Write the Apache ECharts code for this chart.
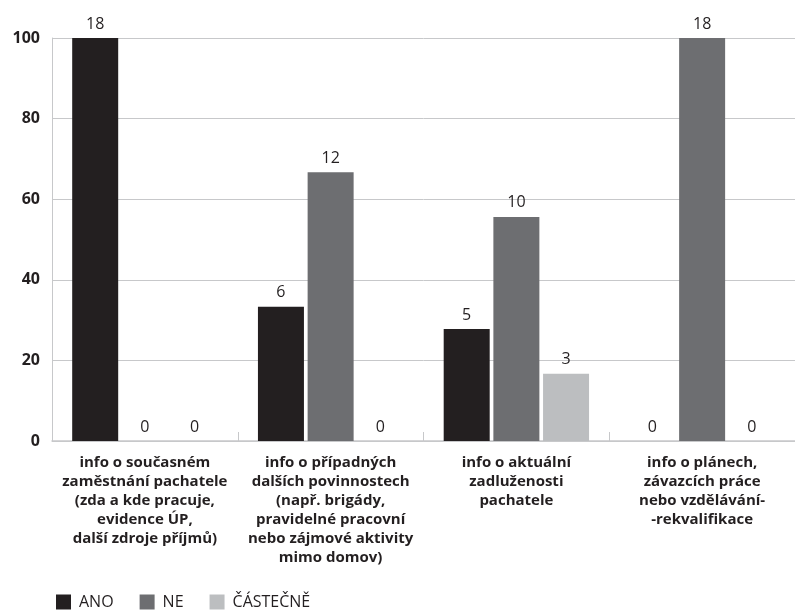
<!DOCTYPE html>
<html>
<head>
<meta charset="utf-8">
<script src="https://cdn.jsdelivr.net/npm/echarts@6/dist/echarts.min.js"></script>
<style>
  html, body { margin: 0; padding: 0; background: #fff; }
  #chart { width: 795px; height: 612px; }
</style>
</head>
<body>
<div id="chart"></div>
<script>
var categories = [
  'info o současném\nzaměstnání pachatele\n(zda a kde pracuje,\nevidence ÚP,\ndalší zdroje příjmů)',
  'info o případných\ndalších povinnostech\n(např. brigády,\npravidelné pracovní\nnebo zájmové aktivity\nmimo domov)',
  'info o aktuální\nzadluženosti\npachatele',
  'info o plánech,\nzávazcích práce\nnebo vzdělávání-\n-rekvalifikace'
];
var seriesNames = ['ANO', 'NE', 'ČÁSTEČNĚ'];
// percentages (bar heights)
var anoPct = [100, 33.3, 27.8, 0];
var nePct = [0, 66.7, 55.6, 100];
var castPct = [0, 0, 16.7, 0];
// counts (bar labels)
var anoCount = [18, 6, 5, 0];
var neCount = [0, 12, 10, 18];
var castCount = [0, 0, 3, 0];
var yTicks = [0, 20, 40, 60, 80, 100];

var colors = ['#231f20', '#6d6e71', '#bcbec0'];
var font = 'Open Sans';

var chartDom = document.getElementById('chart');
var myChart = echarts.init(chartDom);

function makeSeries(name, pct, counts, color) {
  return {
    name: name,
    type: 'bar',
    color: color,
    barWidth: 46,
    barGap: '8%',
    label: {
      show: true,
      position: 'top',
      distance: 6,
      color: '#231f20',
      fontSize: 16,
      fontFamily: font,
      formatter: function (p) {
        return counts[p.dataIndex];
      }
    },
    data: pct
  };
}

var option = {
  animation: false,
  textStyle: { fontFamily: font },
  grid: { left: 52, right: 0, top: 38, bottom: 171, containLabel: false },
  legend: {
    data: seriesNames,
    left: 51,
    bottom: -3,
    icon: 'rect',
    itemWidth: 15,
    itemHeight: 15,
    itemGap: 26,
    textStyle: { color: '#231f20', fontSize: 16, fontFamily: font, padding: [0, 0, 0, 3] }
  },
  xAxis: {
    type: 'category',
    data: categories,
    axisLine: { lineStyle: { color: '#c7c8ca', width: 1.5 } },
    axisTick: { show: true, inside: true, length: 9, lineStyle: { color: '#c7c8ca' } },
    axisLabel: {
      interval: 0,
      margin: 12,
      color: '#231f20',
      fontSize: 15,
      fontWeight: 'bold',
      lineHeight: 19,
      fontFamily: font
    }
  },
  yAxis: {
    type: 'value',
    min: yTicks[0],
    max: yTicks[yTicks.length - 1],
    interval: 20,
    axisLine: { show: true, lineStyle: { color: '#c7c8ca' } },
    axisTick: { show: false },
    splitLine: { lineStyle: { color: '#c7c8ca', width: 1 } },
    axisLabel: {
      margin: 12,
      color: '#231f20',
      fontSize: 16,
      fontWeight: 'bold',
      fontFamily: font
    }
  },
  series: [
    makeSeries(seriesNames[0], anoPct, anoCount, colors[0]),
    makeSeries(seriesNames[1], nePct, neCount, colors[1]),
    makeSeries(seriesNames[2], castPct, castCount, colors[2])
  ]
};

option && myChart.setOption(option);
</script>
</body>
</html>
